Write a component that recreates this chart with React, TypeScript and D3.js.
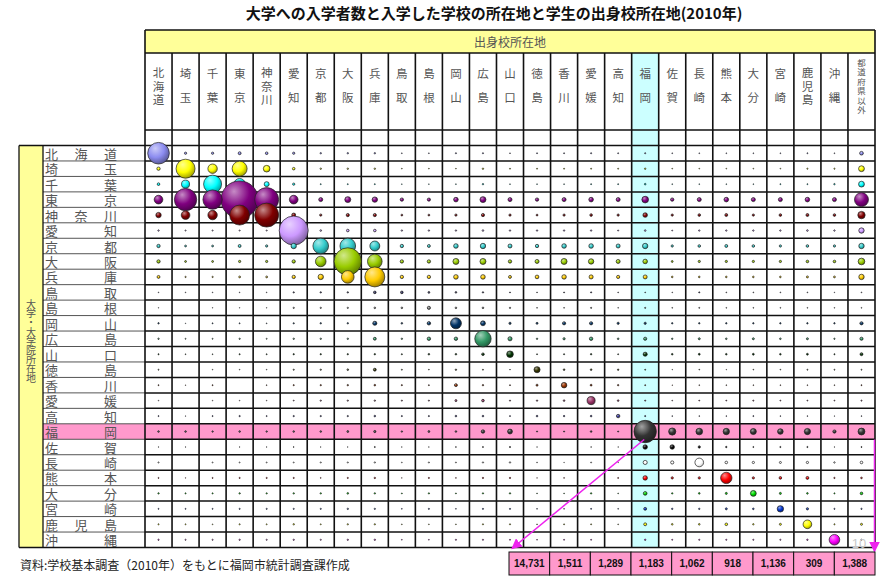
import React from 'react';
import * as d3 from 'd3';

const colNames = ['北海道','埼玉','千葉','東京','神奈川','愛知','京都','大阪','兵庫','鳥取','島根','岡山','広島','山口','徳島','香川','愛媛','高知','福岡','佐賀','長崎','熊本','大分','宮崎','鹿児島','沖縄','都道府県以外'];
const rowNames = ['北海道','埼玉','千葉','東京','神奈川','愛知','京都','大阪','兵庫','鳥取','島根','岡山','広島','山口','徳島','香川','愛媛','高知','福岡','佐賀','長崎','熊本','大分','宮崎','鹿児島','沖縄'];
const rowColors = ['#8c8cf0','#ffff00','#00ffff','#800080','#800000','#cc99ff','#33cccc','#99cc00','#ffcc00','#333366','#808080','#003366','#339966','#003300','#333300','#993300','#993366','#333399','#333333','#000000','#ffffff','#ff0000','#00dd00','#0033cc','#ffff00','#ff00ff'];

// rows: university location, columns: high-school location
const r00 = [13700,150,150,250,200,150,60,60,60,20,20,40,40,20,30,30,40,30,40,20,20,20,20,20,30,20,400];
const r01 = [330,10600,2600,6600,1300,200,60,60,60,20,20,20,60,30,30,30,30,30,60,20,20,20,20,20,40,40,1000];
const r02 = [200,1900,9500,3800,730,150,30,30,30,15,15,20,60,20,20,20,30,30,80,20,20,20,20,30,30,60,1000];
const r03 = [2200,14600,11000,41000,16900,2200,470,1050,850,330,300,620,1050,470,330,470,620,470,1300,330,470,620,470,470,620,470,5750];
const r04 = [850,2200,2600,11700,16900,470,150,300,300,100,100,150,300,150,100,150,200,150,620,150,200,250,150,200,250,200,1600];
const r05 = [60,40,40,40,40,24700,80,200,200,60,60,60,80,60,60,60,60,40,80,30,60,60,60,60,80,60,850];
const r06 = [330,100,100,250,150,850,7200,7200,2900,330,250,620,850,470,330,620,620,470,850,150,200,250,200,150,200,150,850];
const r07 = [330,100,100,150,150,330,3300,22000,6300,330,330,1050,1050,330,470,1050,850,470,620,100,150,150,150,150,200,200,1300];
const r08 = [250,50,50,100,100,330,850,4700,11700,330,330,620,620,250,400,600,500,300,470,80,80,80,80,80,120,100,850];
const r09 = [15,15,15,15,15,50,60,60,200,200,100,80,60,30,20,30,40,20,20,15,40,20,20,20,20,10,20];
const r10 = [10,0,10,10,10,50,50,50,80,80,300,80,80,50,20,20,40,15,40,20,30,20,20,20,20,15,20];
const r11 = [60,10,30,30,20,50,60,60,500,80,350,3550,700,150,120,300,300,150,150,60,60,60,60,60,60,60,300];
const r12 = [60,30,30,50,30,60,60,60,250,60,350,350,7900,500,60,150,350,80,300,60,120,80,120,80,120,50,300];
const r13 = [40,20,20,40,30,50,50,50,60,40,80,80,200,1300,30,40,60,30,500,80,100,80,100,80,100,40,250];
const r14 = [30,0,15,15,15,40,50,80,250,30,20,60,30,15,1100,80,80,60,30,10,20,10,20,20,30,30,30];
const r15 = [30,10,30,0,20,40,50,60,80,40,30,250,60,30,120,900,100,60,30,10,20,20,20,20,20,20,30];
const r16 = [15,0,15,15,15,30,50,50,60,40,40,120,200,40,60,80,1900,80,40,20,30,30,40,30,30,30,40];
const r17 = [30,10,30,50,30,50,50,50,80,40,40,80,80,30,80,60,80,350,40,20,20,20,30,20,20,10,20];
const r18 = [80,80,60,80,60,80,80,100,150,60,100,80,350,700,40,40,80,40,14731,1511,1289,1183,1062,918,1136,309,1388];
const r19 = [10,10,0,10,10,20,10,10,30,10,10,20,30,40,10,0,15,10,600,600,150,60,30,40,40,10,30];
const r20 = [40,0,30,30,30,30,40,40,50,20,40,30,50,60,20,10,30,10,500,300,2200,200,150,120,150,60,200];
const r21 = [30,10,30,40,40,40,20,40,60,10,40,20,50,50,10,20,0,30,600,150,150,3800,150,200,250,50,80];
const r22 = [60,40,40,60,50,60,60,80,60,30,50,30,50,60,20,20,60,20,400,60,80,120,1000,120,80,40,200];
const r23 = [30,30,30,40,40,40,40,60,50,20,40,20,40,40,20,20,30,20,250,60,60,120,80,1200,150,40,50];
const r24 = [40,30,20,40,30,60,30,50,50,20,20,20,40,40,20,30,30,20,250,80,80,200,60,120,2200,40,120];
const r25 = [50,40,40,50,40,50,40,50,60,20,20,40,40,30,20,30,30,0,60,30,40,40,40,40,60,3300,40];
const counts = [r00,r01,r02,r03,r04,r05,r06,r07,r08,r09,r10,r11,r12,r13,r14,r15,r16,r17,r18,r19,r20,r21,r22,r23,r24,r25];

const totalCols = ['福岡','佐賀','長崎','熊本','大分','宮崎','鹿児島','沖縄','都道府県以外'];

const W = 885, H = 576;
const FONT = '"Noto Sans CJK JP", "Noto Sans", sans-serif';

export default function App() {
  const x = d3.scaleBand<string>().domain(colNames).range([145, 875]);
  const y = d3.scaleBand<string>().domain(rowNames).range([145.5, 547.5]);
  const r = d3.scaleSqrt().domain([0, 14731]).range([0, 11.2]);
  const bx = d3.scaleBand<string>().domain(totalCols).range([509, 875]);
  const fuk = rowNames.indexOf('福岡');
  const fukCol = x('福岡')!;
  const colW = x.bandwidth();
  const rowH = y.bandwidth();
  const top = 30, hdrB = 53, hdrE = 130, dataTop = 145.5, dataBot = 547.5;

  const bubbles: { ri: number; ci: number; v: number }[] = [];
  counts.forEach((row, ri) => {
    const items = row.map((v, ci) => ({ ri, ci, v })).filter(d => d.v > 0);
    items.sort((a, b) => b.v - a.v);
    bubbles.push(...items);
  });

  const colCharY = (n: number) => {
    if (n === 2) return [73, 97];
    if (n === 3) return [72, 86, 99];
    return d3.range(n).map(i => 62 + i * 9.4);
  };

  const fukCx = fukCol + colW / 2;
  const fukCy = y('福岡')! + rowH / 2;

  return (
    <svg width={W} height={H} style={{ position: 'absolute', left: 0, top: 0, background: '#fff' }} fontFamily={FONT}>
      <defs>
        {rowColors.map((c, i) => {
          const light = c === '#ffffff' ? '#ffffff' : d3.interpolateRgb(c, '#ffffff')(0.55);
          const dark = c === '#ffffff' ? '#cccccc' : d3.interpolateRgb(c, '#000000')(0.4);
          return (
            <radialGradient key={i} id={`g${i}`} cx="0.38" cy="0.32" r="0.72" fx="0.35" fy="0.28">
              <stop offset="0" stopColor={light} />
              <stop offset="0.55" stopColor={c} />
              <stop offset="1" stopColor={dark} />
            </radialGradient>
          );
        })}
        <marker id="arr" viewBox="0 0 10 10" refX="9" refY="5" markerWidth="7" markerHeight="7" orient="auto-start-reverse">
          <path d="M0,0 L10,5 L0,10 z" fill="#ee22ee" />
        </marker>
      </defs>

      <text x={494} y={19} textAnchor="middle" fontSize={15} fontWeight="bold" fill="#111">大学への入学者数と入学した学校の所在地と学生の出身校所在地(2010年)</text>

      {/* header band */}
      <rect x={145} y={top} width={730} height={hdrB - top} fill="#ffff99" />
      <text x={510} y={47} textAnchor="middle" fontSize={12} fill="#555">出身校所在地</text>

      {/* left band */}
      <rect x={19} y={dataTop} width={24} height={dataBot - dataTop} fill="#ffff99" />
      {'大学・大学院所在地'.split('').map((ch, i) => (
        <text key={i} x={31} y={303.5 + i * 9.2} textAnchor="middle" dominantBaseline="central" fontSize={10} fill="#555">{ch}</text>
      ))}

      {/* highlights */}
      <rect x={fukCol} y={hdrB} width={colW} height={dataBot - hdrB} fill="#ccffff" />
      <rect x={43} y={y('福岡')} width={875 - 43} height={rowH} fill="#ff99cc" />

      {/* column header labels */}
      {colNames.map((name, ci) => {
        const chars = name.split('');
        const ys = colCharY(chars.length);
        const fs = chars.length > 3 ? 8.5 : 11.5;
        return chars.map((ch, k) => (
          <text key={`${ci}-${k}`} x={x(name)! + colW / 2} y={ys[k]} textAnchor="middle" dominantBaseline="central" fontSize={fs} fill="#555">{ch}</text>
        ));
      })}

      {/* row labels (distributed) */}
      {rowNames.map((name, ri) => {
        const chars = name.split('');
        const cy = y(name)! + rowH / 2;
        const left = 51.5, right = 110.5;
        return chars.map((ch, k) => {
          const cx = chars.length === 1 ? left : left + (k * (right - left)) / (chars.length - 1);
          return (
            <text key={`${ri}-${k}`} x={cx} y={cy} textAnchor="middle" dominantBaseline="central" fontSize={13} fill="#555">{ch}</text>
          );
        });
      })}

      {/* grid: label area */}
      {rowNames.map((name, ri) => ri > 0 ? (
        <line key={`lh${ri}`} x1={43} x2={145} y1={y(name)} y2={y(name)} stroke="#555" strokeWidth={1} />
      ) : null)}
      <line x1={19} x2={145} y1={dataTop} y2={dataTop} stroke="#111" strokeWidth={1.3} />
      <line x1={19} x2={875} y1={dataBot} y2={dataBot} stroke="#111" strokeWidth={1.5} />
      <line x1={19} x2={19} y1={dataTop} y2={dataBot} stroke="#111" strokeWidth={1.3} />
      <line x1={43} x2={43} y1={dataTop} y2={dataBot} stroke="#111" strokeWidth={1.3} />

      {/* grid: matrix */}
      {rowNames.map((name, ri) => (
        <line key={`h${ri}`} x1={145} x2={875} y1={y(name)} y2={y(name)} stroke="#111" strokeWidth={1.5} />
      ))}
      <line x1={145} x2={875} y1={top} y2={top} stroke="#111" strokeWidth={1.3} />
      <line x1={145} x2={875} y1={hdrB} y2={hdrB} stroke="#111" strokeWidth={1.3} />
      <line x1={145} x2={875} y1={hdrE} y2={hdrE} stroke="#111" strokeWidth={1.5} />
      {colNames.map((name) => (
        <line key={`v${name}`} x1={x(name)} x2={x(name)} y1={name === colNames[0] ? top : hdrB} y2={dataBot} stroke="#111" strokeWidth={1.6} />
      ))}
      <line x1={875} x2={875} y1={top} y2={dataBot} stroke="#111" strokeWidth={1.6} />

      {/* bubbles */}
      {bubbles.map((d, i) => (
        <circle key={i} cx={x(colNames[d.ci])! + colW / 2} cy={y(rowNames[d.ri])! + rowH / 2} r={r(d.v)}
          fill={`url(#g${d.ri})`} stroke="#222" strokeWidth={0.7} />
      ))}

      <text x={859} y={548} textAnchor="middle" fontSize={13} fill="#c8c8c8" fontFamily="Liberation Sans, sans-serif">10</text>

      {/* arrows */}
      <line x1={fukCx - 1} x2={bx('福岡')! + 3} y1={fukCy + 8} y2={dataBot + 1} stroke="#ee22ee" strokeWidth={1.5} markerEnd="url(#arr)" />
      <line x1={874.5} x2={874.5} y1={fukCy + 8} y2={dataBot + 4} stroke="#ee22ee" strokeWidth={1.5} markerEnd="url(#arr)" />

      {/* totals */}
      {totalCols.map((c) => (
        <g key={c}>
          <rect x={bx(c)} y={552} width={bx.bandwidth()} height={23} fill="#ff99cc" stroke="#111" strokeWidth={1} />
          <text x={bx(c)! + bx.bandwidth() / 2} y={567} textAnchor="middle" fontSize={10} fontWeight="bold" fill="#111" fontFamily="Liberation Sans, Arial, sans-serif">
            {d3.format(',')(counts[fuk][colNames.indexOf(c)])}
          </text>
        </g>
      ))}

      <text x={20} y={570} fontSize={12} fill="#222">資料:学校基本調査（2010年）をもとに福岡市統計調査課作成</text>
    </svg>
  );
}
